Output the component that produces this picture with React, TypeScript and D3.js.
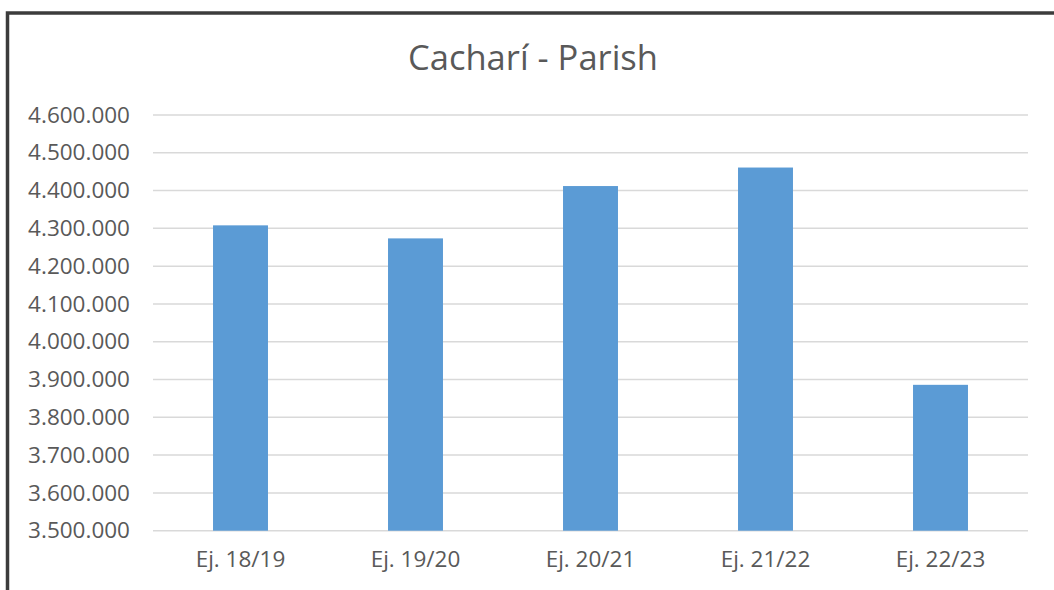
import { useEffect, useRef } from "react";
import * as d3 from "d3";

const title = "Cacharí - Parish";
const categories = ["Ej. 18/19", "Ej. 19/20", "Ej. 20/21", "Ej. 21/22", "Ej. 22/23"];
const values = [4308000, 4273500, 4412000, 4461000, 3886000];
const yTicks = [3500000, 3600000, 3700000, 3800000, 3900000, 4000000, 4100000, 4200000, 4300000, 4400000, 4500000, 4600000];

const W = 1054;
const H = 590;
const FONT = "'Open Sans', 'Noto Sans', sans-serif";

export default function App() {
  const svgRef = useRef<SVGSVGElement>(null);

  useEffect(() => {
    const svg = d3.select(svgRef.current);
    svg.selectAll("*").remove();

    const left = 153, right = 1028, top = 115, bottom = 530.7;

    const x = d3.scaleBand()
      .domain(categories)
      .range([left, right])
      .paddingInner(0.686)
      .paddingOuter(0.343);

    const y = d3.scaleLinear()
      .domain([3500000, 4600000])
      .range([bottom, top]);

    const fmt = (v: number) => d3.format(",")(v).replace(/,/g, ".");

    // outer frame
    svg.append("rect")
      .attr("x", 7.5)
      .attr("y", 13)
      .attr("width", 1200)
      .attr("height", 800)
      .attr("fill", "white")
      .attr("stroke", "#3c3c3c")
      .attr("stroke-width", 3.5);

    svg.append("text")
      .attr("x", 533)
      .attr("y", 70)
      .attr("text-anchor", "middle")
      .attr("font-family", FONT)
      .attr("font-size", 34.5)
      .attr("fill", "#595959")
      .text(title);

    // gridlines
    svg.append("g")
      .selectAll("line")
      .data(yTicks)
      .join("line")
      .attr("x1", left)
      .attr("x2", right)
      .attr("y1", d => y(d))
      .attr("y2", d => y(d))
      .attr("stroke", "#d9d9d9")
      .attr("stroke-width", 1.5);

    const yAxis = d3.axisLeft(y).tickValues(yTicks).tickFormat(d => fmt(+d)).tickSize(0).tickPadding(0);
    const gy = svg.append("g")
      .attr("transform", "translate(130,0)")
      .call(yAxis);
    gy.select(".domain").remove();
    gy.selectAll("text")
      .attr("font-family", FONT)
      .attr("font-size", 22.5)
      .attr("fill", "#595959");

    svg.append("g")
      .selectAll("rect")
      .data(values)
      .join("rect")
      .attr("x", (_, i) => x(categories[i])!)
      .attr("width", x.bandwidth())
      .attr("y", d => y(d))
      .attr("height", d => bottom - y(d))
      .attr("fill", "#5b9bd5");

    const xAxis = d3.axisBottom(x).tickSize(0).tickPadding(0);
    const gx = svg.append("g")
      .attr("transform", `translate(0,${bottom + 20})`)
      .call(xAxis);
    gx.select(".domain").remove();
    gx.selectAll("text")
      .attr("font-family", FONT)
      .attr("font-size", 22.5)
      .attr("fill", "#595959");
  }, []);

  return (
    <svg
      ref={svgRef}
      width={W}
      height={H}
      style={{ position: "absolute", left: 0, top: 0, background: "white" }}
    />
  );
}
